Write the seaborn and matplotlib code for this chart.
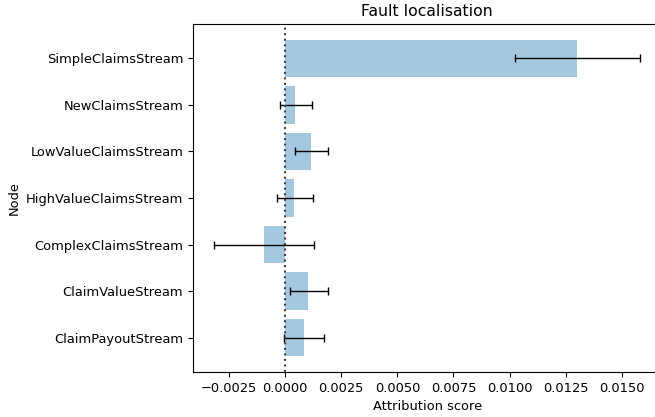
import numpy as np
import pandas as pd
import seaborn as sns
import matplotlib
matplotlib.use("Agg")
import matplotlib.pyplot as plt

# Data
nodes = ["SimpleClaimsStream", "NewClaimsStream", "LowValueClaimsStream",
         "HighValueClaimsStream", "ComplexClaimsStream", "ClaimValueStream",
         "ClaimPayoutStream"]
scores = [0.01301, 0.000446, 0.00116, 0.00040, -0.00094, 0.00103, 0.00083]
err_low = [0.01026, -0.00024, 0.00046, -0.00037, -0.00315, 0.00024, -0.00003]
err_high = [0.01582, 0.00119, 0.00190, 0.00123, 0.00128, 0.00190, 0.00174]

df = pd.DataFrame({"Node": nodes, "Attribution score": scores})

plt.rcParams["font.size"] = 9.4

fig = plt.figure(figsize=(6.55, 4.17), dpi=100)
ax = fig.add_axes([0.2947, 0.1079, 0.7153, 0.8345])

sns.barplot(
    data=df,
    x="Attribution score",
    y="Node",
    orient="h",
    color="tab:blue",
    saturation=1,
    alpha=0.4,
    errorbar=None,
    ax=ax)

# error bars
scores_arr = np.array(scores)
xerr = [scores_arr - np.array(err_low), np.array(err_high) - scores_arr]
ax.errorbar(scores_arr, np.arange(len(nodes)), xerr=xerr, fmt="none",
            ecolor="black", elinewidth=1, capsize=3)

ax.axvline(0, color="0.25", linestyle=":", linewidth=1.5)

ax.margins(x=0.05)
ax.set_ylim(len(nodes) - 1 + 0.74, -0.74)
ax.set_title("Fault localisation")
ax.set_xlabel("Attribution score")
ax.set_ylabel("Node")

fig.savefig("out.png", dpi=100)
